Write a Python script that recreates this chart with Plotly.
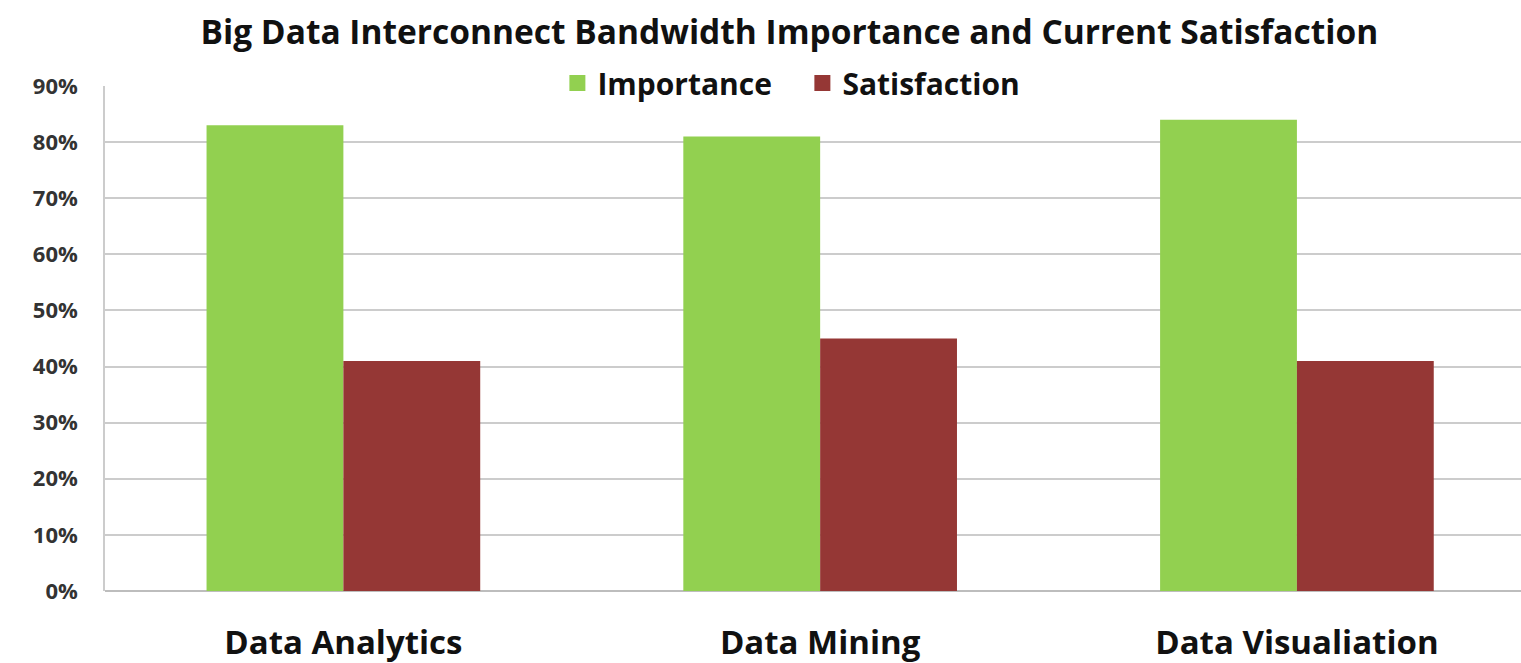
import plotly.graph_objects as go

categories = ["Data Analytics", "Data Mining", "Data Visualiation"]
importance = [0.83, 0.81, 0.84]
satisfaction = [0.41, 0.45, 0.41]
y_ticks = [0, 0.1, 0.2, 0.3, 0.4, 0.5, 0.6, 0.7, 0.8, 0.9]
series_names = ["Importance", "Satisfaction"]
series_colors = ["#92D050", "#953735"]

FONT = "Open Sans"

fig = go.Figure()
for name, vals, col in zip(series_names, [importance, satisfaction], series_colors):
    fig.add_trace(go.Bar(name=name, x=categories, y=vals, showlegend=False,
                         legendgroup=name,
                         marker=dict(color=col, line=dict(width=0))))
# legend entries with larger square swatches
for name, col in zip(series_names, series_colors):
    fig.add_trace(go.Scatter(name=name, x=[None], y=[None], mode="markers",
                             legendgroup=name,
                             marker=dict(symbol="square", size=16, color=col)))

fig.update_layout(
    width=1521, height=663,
    margin=dict(l=105, r=0, t=86, b=72, autoexpand=False),
    paper_bgcolor="white", plot_bgcolor="white",
    barmode="group", bargap=0.426, bargroupgap=0,
    font=dict(family=FONT, color="#1a1a1a"),
    title=dict(text="<b>Big Data Interconnect Bandwidth Importance and Current Satisfaction</b>",
               x=0.519, xanchor="center", y=0.952, yanchor="middle",
               font=dict(size=33.5, family=FONT, color="#111111")),
    legend=dict(orientation="h", x=0.4925, xanchor="center", y=1.006, yanchor="middle",
                bgcolor="white", font=dict(size=30, family=FONT, color="#111111", weight="bold"),
                itemsizing="trace", traceorder="normal", itemwidth=30,
                entrywidth=200, entrywidthmode="pixels",
                borderwidth=0),
    showlegend=True,
)
fig.update_xaxes(
    type="category", range=[-0.5, 2.47], automargin=False,
    showgrid=False, showline=False, zeroline=False,
    ticks="", ticklabelstandoff=29,
    tickfont=dict(size=33, family=FONT, color="#111111", weight="bold"),
)
fig.update_yaxes(
    range=[0, 0.9], tickvals=y_ticks, tickformat=".0%", automargin=False,
    showgrid=True, gridcolor="#cccccc", gridwidth=1.5,
    showline=True, linecolor="#cccccc", linewidth=1.5,
    zeroline=True, zerolinecolor="#bdbdbd", zerolinewidth=1.5,
    ticks="", ticklabelstandoff=21,
    tickfont=dict(size=22, family=FONT, color="#333333", weight="bold"),
)

fig.write_html("out.html")
